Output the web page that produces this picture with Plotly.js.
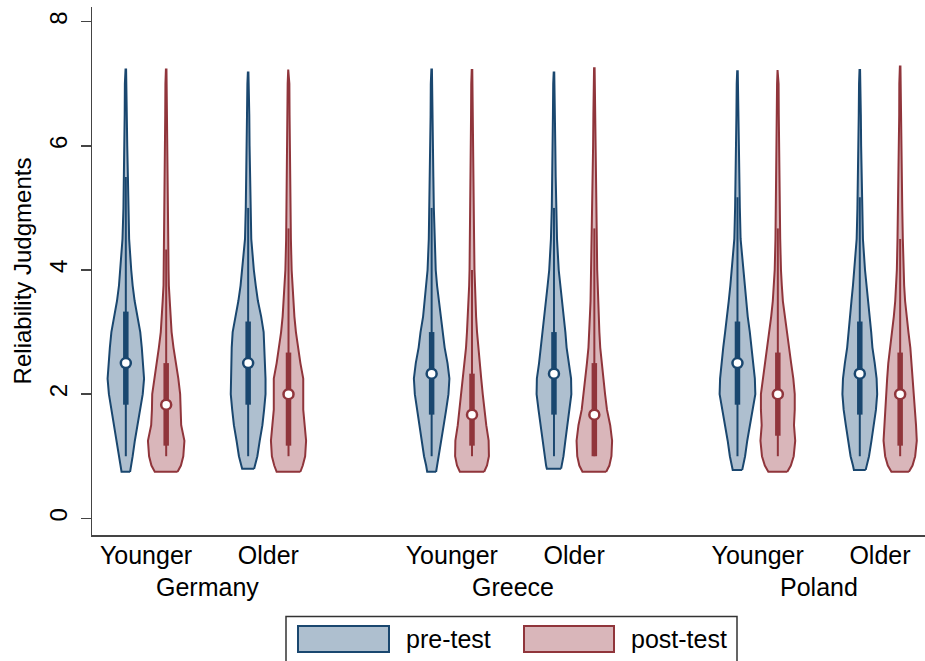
<!DOCTYPE html>
<html>
<head>
<meta charset="utf-8">
<script src="https://cdn.plot.ly/plotly-3.0.1.min.js"></script>
<style>html,body{margin:0;padding:0;background:#fff;}#chart{width:925px;height:661px;}</style>
</head>
<body>
<div id="chart"></div>
<script>
// ---------------- DATA ----------------
const countries = ["Germany", "Germany", "Greece", "Greece", "Poland", "Poland"];
const ages = ["Younger", "Older", "Younger", "Older", "Younger", "Older"];
const seriesNames = ["pre-test", "post-test"];

// density profile levels (Reliability Judgments)
const levels = [0.85, 1.0, 1.25, 1.5, 1.75, 2.0, 2.25, 2.5, 2.75, 3.0, 3.25, 3.5, 3.75, 4.0, 4.5, 5.0, 5.5, 6.0, 6.5, 7.0];

// estimated density (relative half-width) at each level
const preDensity = [
  [5.3, 7.2, 9.5, 12.2, 15, 17.8, 19.2, 18.3, 16.8, 15.2, 12, 9.3, 7.2, 5.7, 3.5, 2.5, 2.2, 1.5, 1.2, 1.0],
  [7.2, 9.7, 12.2, 15, 16.8, 18.3, 18.3, 17.5, 17.3, 16.3, 13.7, 10.3, 8, 6, 3.3, 2.5, 2, 1.5, 1.2, 0.8],
  [5.8, 8, 10.3, 12.7, 15.3, 17.7, 18.7, 16.7, 13.7, 11.7, 9, 7.3, 5.7, 4.3, 3, 2.3, 1.8, 1.4, 1.1, 0.9],
  [8.3, 10, 12, 14.2, 16.3, 18.3, 18, 15.7, 13.3, 12, 10.2, 8.5, 6.7, 5, 3.2, 2.3, 1.8, 1.4, 1.1, 0.8],
  [6, 8, 10.3, 13, 15.8, 18.8, 18.3, 16.7, 15, 13, 10.8, 9.2, 7.5, 5.8, 3.3, 2.5, 2, 1.4, 1.1, 0.8],
  [7.2, 9.7, 12.3, 14.7, 17, 18.3, 17.7, 15.7, 13.3, 12, 10.3, 8.8, 7.2, 5.5, 3.3, 2.5, 2, 1.4, 1.1, 0.8]
];
const postDensity = [
  [15.5, 18, 19.2, 15.8, 15, 14.7, 12.8, 10, 7.7, 5.7, 4.7, 3.7, 2.8, 2.5, 2.2, 1.7, 1.4, 1.2, 1.0, 0.8],
  [15, 17.5, 18.5, 17, 15.5, 15.5, 15.5, 12.5, 10, 7.8, 6.2, 5, 4, 3.3, 2.5, 2, 1.7, 1.3, 1.1, 0.9],
  [15.8, 17.8, 17.5, 15, 12.8, 11.3, 9.7, 8, 6.3, 5.3, 4.3, 3.5, 3, 2.6, 2.2, 1.8, 1.5, 1.2, 1.0, 0.8],
  [15.8, 18, 18.7, 16.7, 13.3, 11.3, 9.5, 7.8, 6.2, 5.3, 4.7, 4, 3.5, 3, 2.6, 2.1, 1.7, 1.3, 1.0, 0.8],
  [13.7, 16.7, 18.3, 17, 17.8, 17.8, 16.3, 14, 11.7, 9.3, 7, 5.3, 4.2, 3.3, 2.5, 2, 1.6, 1.3, 1.0, 0.8],
  [13, 15.8, 17.5, 16.7, 15.5, 14.5, 13.7, 12.5, 10.7, 8.7, 6.7, 5.2, 4.2, 3.5, 2.8, 2.2, 1.7, 1.3, 1.0, 0.9]
];
const preMin = [0.75, 0.8, 0.75, 0.8, 0.78, 0.78];
const preMinDensity = [4.5, 6.3, 4.7, 7.5, 5, 6.2];
const preMax = [7.23, 7.18, 7.23, 7.18, 7.2, 7.22];
const postMin = [0.75, 0.75, 0.75, 0.75, 0.75, 0.75];
const postMinDensity = [12, 12.5, 12.8, 12.5, 10, 9.2];
const postMax = [7.23, 7.23, 7.22, 7.25, 7.22, 7.28];

const preQ1 = [1.83, 1.83, 1.67, 1.67, 1.83, 1.67];
const preMedian = [2.5, 2.5, 2.33, 2.33, 2.5, 2.33];
const preQ3 = [3.33, 3.17, 3.0, 3.0, 3.17, 3.17];
const preLowW = [1.0, 1.0, 1.0, 1.0, 1.0, 1.0];
const preHighW = [5.5, 5.0, 5.0, 5.0, 5.17, 5.17];

const postQ1 = [1.17, 1.17, 1.17, 1.0, 1.33, 1.17];
const postMedian = [1.83, 2.0, 1.67, 1.67, 2.0, 2.0];
const postQ3 = [2.5, 2.67, 2.33, 2.5, 2.67, 2.67];
const postLowW = [1.0, 1.0, 1.0, 1.0, 1.0, 1.0];
const postHighW = [4.33, 4.67, 4.0, 4.67, 4.67, 4.5];

const yTicks = [0, 2, 4, 6, 8];

// ---------------- STYLE / LAYOUT ----------------
const FONT = "Liberation Sans, Arial, Helvetica, sans-serif";
const colors = {
  pre: {line: "#1a476f", fill: "#aebfcf"},
  post: {line: "#90353b", fill: "#d9b6ba"}
};
const pxPerUnit = 122.33;           // horizontal pixels per x unit
const densScale = 0.95 / pxPerUnit; // density -> x-units
const offset = 0.165;

const groupPos = ages.map((_, i) => 1 + i + 0.5 * Math.floor(i / 2));

const traces = [];
function addViolin(center, dens, vmin, dmin, vmax, c) {
  const ys = [vmin].concat(levels, [vmax]);
  const ds = [dmin].concat(dens, [0.3]);
  const xr = ds.map(d => center + d * densScale);
  const xl = ds.map(d => center - d * densScale).reverse();
  const yl = ys.slice().reverse();
  traces.push({
    type: "scatter", mode: "lines",
    x: xr.concat(xl, [xr[0]]), y: ys.concat(yl, [ys[0]]),
    fill: "toself", fillcolor: c.fill,
    line: {color: c.line, width: 2},
    hoverinfo: "skip", showlegend: false
  });
}
function addBox(center, q1, med, q3, lw, hw, c) {
  traces.push({type: "scatter", mode: "lines", x: [center, center], y: [lw, hw],
    line: {color: c.line, width: 2}, hoverinfo: "skip", showlegend: false});
  traces.push({type: "scatter", mode: "lines", x: [center, center], y: [q1, q3],
    line: {color: c.line, width: 5.5}, hoverinfo: "skip", showlegend: false});
  traces.push({type: "scatter", mode: "markers", x: [center], y: [med],
    marker: {symbol: "circle", size: 10, color: "#ffffff", line: {color: c.line, width: 2.5}},
    hoverinfo: "skip", showlegend: false});
}
groupPos.forEach((p, i) => {
  addViolin(p - offset, preDensity[i], preMin[i], preMinDensity[i], preMax[i], colors.pre);
  addViolin(p + offset, postDensity[i], postMin[i], postMinDensity[i], postMax[i], colors.post);
});
groupPos.forEach((p, i) => {
  addBox(p - offset, preQ1[i], preMedian[i], preQ3[i], preLowW[i], preHighW[i], colors.pre);
  addBox(p + offset, postQ1[i], postMedian[i], postQ3[i], postLowW[i], postHighW[i], colors.post);
});

// plot area geometry in px
const L = 92, R = 925, T = 7, B = 535;
const W = R - L, H = B - T;
const px2paperX = px => (px - L) / W;
const py2paperY = py => (B - py) / H;

// country labels
const annotations = [];
for (let i = 0; i < countries.length; i += 2) {
  annotations.push({
    x: (groupPos[i] + groupPos[i + 1]) / 2, xref: "x",
    y: py2paperY(587), yref: "paper", yanchor: "middle", xanchor: "center",
    text: countries[i], showarrow: false,
    font: {family: FONT, size: 25, color: "#000"}
  });
}
// legend (drawn)
const shapes = [];
shapes.push({type: "rect", xref: "paper", yref: "paper",
  x0: px2paperX(286), x1: px2paperX(737), y0: py2paperY(616.5), y1: py2paperY(675),
  line: {color: "#333333", width: 1.5}, fillcolor: "rgba(0,0,0,0)"});
const legendItems = [
  {name: seriesNames[0], c: colors.pre, sx0: 298, sx1: 389, tx: 404},
  {name: seriesNames[1], c: colors.post, sx0: 524, sx1: 614, tx: 629}
];
legendItems.forEach(it => {
  shapes.push({type: "rect", xref: "paper", yref: "paper",
    x0: px2paperX(it.sx0), x1: px2paperX(it.sx1), y0: py2paperY(626), y1: py2paperY(652),
    line: {color: it.c.line, width: 2}, fillcolor: it.c.fill});
  annotations.push({x: px2paperX(it.tx), xref: "paper", y: py2paperY(639), yref: "paper",
    xanchor: "left", yanchor: "middle", text: it.name, showarrow: false,
    font: {family: FONT, size: 25, color: "#000"}});
});

const layout = {
  width: 925, height: 661,
  margin: {l: L, r: 925 - R, t: T, b: 661 - B, pad: 0},
  paper_bgcolor: "#ffffff", plot_bgcolor: "#ffffff",
  showlegend: false,
  font: {family: FONT, color: "#000"},
  xaxis: {
    range: [1 - (146 - L) / pxPerUnit, 1 + (R - 146) / pxPerUnit],
    tickmode: "array", tickvals: groupPos, ticktext: ages,
    ticks: "", showgrid: false, zeroline: false,
    showline: true, linecolor: "#444444", linewidth: 1.5,
    tickfont: {family: FONT, size: 25, color: "#000"},
    ticklabelstandoff: -3
  },
  yaxis: {
    range: [-(B - 518.3) / 62.07, 8 + (21.7 - T) / 62.07],
    tickmode: "array", tickvals: yTicks, ticktext: yTicks.map(String),
    ticks: "outside", ticklen: 10, tickwidth: 1.5, tickcolor: "#444444",
    showgrid: false, zeroline: false,
    showline: true, linecolor: "#444444", linewidth: 1.5,
    tickangle: -90,
    tickfont: {family: FONT, size: 24, color: "#000"},
    ticklabelstandoff: 4,
    title: {text: "Reliability Judgments", font: {family: FONT, size: 24, color: "#000"}, standoff: 6}
  },
  shapes: shapes,
  annotations: annotations
};

Plotly.newPlot("chart", traces, layout, {staticPlot: true, displayModeBar: false});
</script>
</body>
</html>
